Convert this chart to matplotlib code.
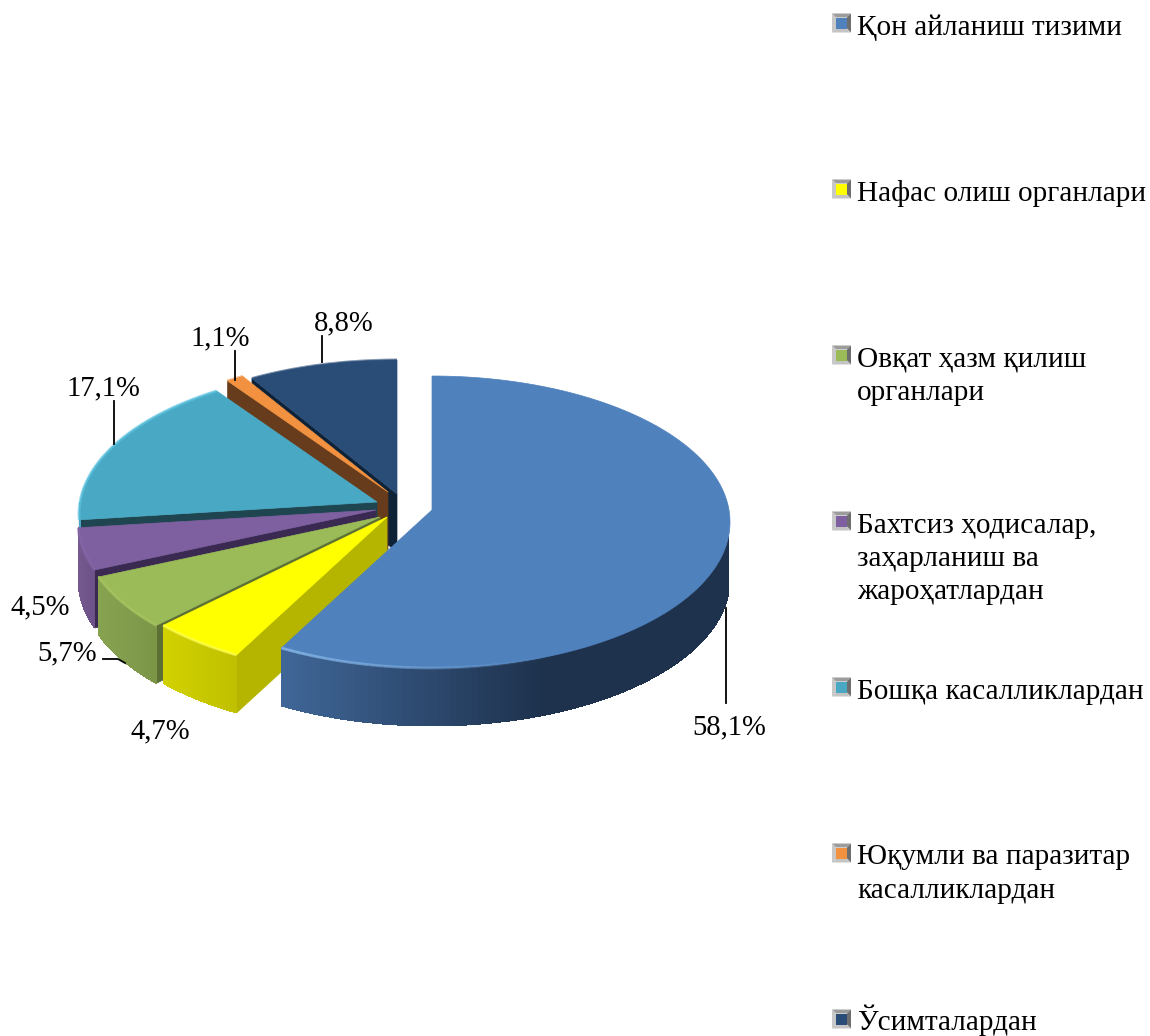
import numpy as np
import matplotlib
matplotlib.use("Agg")
import matplotlib.pyplot as plt
from matplotlib.colors import to_rgb
from matplotlib.patches import Polygon

plt.rcParams['font.family'] = ['Liberation Serif', 'DejaVu Serif']

names = ["Қон айланиш тизими", "Нафас олиш органлари", "Овқат ҳазм қилиш\nорганлари",
         "Бахтсиз ҳодисалар,\nзаҳарланиш ва\nжароҳатлардан", "Бошқа касалликлардан",
         "Юқумли ва паразитар\nкасалликлардан", "Ўсимталардан"]
values = [58.1, 4.7, 5.7, 4.5, 17.1, 1.1, 8.8]
labels = ["58,1%", "4,7%", "5,7%", "4,5%", "17,1%", "1,1%", "8,8%"]

# look of each slice
top_col = ["#4f81bd", "#ffff00", "#9bbb59", "#7e60a0", "#49a9c4", "#f29240", "#2a4d78"]
wall_col = ["#1f334f", "#b5b500", "#5c7035", "#3a2a52", "#1f4650", "#663c1c", "#0e2238"]
side_l = ["#41699b", "#d2d200", "#87a350", "#75598f", "#49a9c4", "#f29240", "#2a4d78"]
side_r = ["#1e324d", "#c0c000", "#7c9648", "#6c5288", "#49a9c4", "#f29240", "#2a4d78"]
edge_col = ["#86b6e6", "#ffff66", "#aecb66", "#8a6cab", "#5fc6e2", "#f29240", "#2a4d78"]
apex = [(432, 510), (387, 517), (380, 517), (376, 510), (377, 502), (388, 492), (397, 494)]
label_xy = [(729, 727), (160, 731), (67, 653), (40, 607), (103, 388), (220, 338), (344, 323)]
leaders = [[(726, 608), (726, 703)], [], [(103, 659), (118, 659), (125, 663)], [],
           [(114, 401), (114, 444)], [(235, 351), (235, 380)], [(322, 336), (322, 362)]]

rx, ry, depth, drop = 298, 146, 58, 12


def rim(a, deg):
    # small correction of the angle for the perspective of the 3d view
    r = np.radians(deg)
    w = 5 * np.sin(r) ** 2 + 5 * np.sin(r) ** 2 * np.maximum(np.cos(r), 0) * (np.sin(r) < 0)
    t = np.radians(deg + w)
    return a[0] + rx * np.sin(t), a[1] + drop - ry * np.cos(t)


def mix(c1, c2, f):
    c1, c2 = np.array(to_rgb(c1)), np.array(to_rgb(c2))
    return tuple(c1 + (c2 - c1) * f)


fig = plt.figure(figsize=(11.5, 10.36), dpi=100)
ax = fig.add_axes([0, 0, 1, 1])
ax.set_xlim(0, 1150)
ax.set_ylim(1036, 0)
ax.axis("off")

ends = np.cumsum(values) * 3.6
starts = ends - np.array(values) * 3.6

# back slices first, the big one goes on top
for i in range(len(values) - 1, -1, -1):
    a = apex[i]
    th = np.linspace(starts[i], ends[i], 160)
    xs, ys = rim(a, th)
    if i > 0:
        x0, y0 = rim(a, starts[i])
        ax.add_patch(Polygon([a, (x0, y0), (x0, y0 + depth), (a[0], a[1] + depth)],
                             fc=wall_col[i], ec=wall_col[i], lw=0.5))
    # outer side, only the part facing the viewer
    idx = np.where((th >= 90) & (th <= 270))[0]
    # from the right so every strip overlaps the seam of the one before
    for j0 in idx[::-1][:-1]:
        j1 = j0 - 1
        jn = min(j0 + 2, idx[-1])
        f = np.clip((xs[j0] - xs[idx].min()) / max(xs[idx].max() - xs[idx].min(), 1), 0, 1)
        if i == 0:
            f = min(f / 0.6, 1)
        c = mix(side_l[i], side_r[i], f)
        ax.add_patch(Polygon([(xs[jn], ys[jn]), (xs[j1], ys[j1]),
                              (xs[j1], ys[j1] + depth), (xs[jn], ys[jn] + depth)],
                             fc=c, lw=0, antialiased=False))
    ax.add_patch(Polygon([a] + list(zip(xs, ys)), fc=top_col[i], ec=top_col[i], lw=0.5))
    # light bevel along the rim
    for j0, j1 in zip(range(0, 159), range(1, 160)):
        if th[j0] < 90 and i == 0:
            continue
        alpha = 0.7
        if i == 0:
            alpha = 0.9 * max(1 - (ends[0] - th[j0]) / 55, 0)
        if alpha > 0:
            ax.plot(xs[[j0, j1]], ys[[j0, j1]], color=edge_col[i], lw=2, alpha=alpha,
                    solid_capstyle="butt")

for line, lab, pos in zip(leaders, labels, label_xy):
    if line:
        ax.plot(*zip(*line), color="black", lw=1.3)
    ax.text(pos[0], pos[1], lab, fontsize=20.6, ha="center", va="center", color="black")

# legend with the bevelled squares
for i, name in enumerate(names):
    yc = 23 + i * 166
    x0, x1, y0, y1 = 832, 851, yc - 9.5, yc + 9.5
    ins = 4
    ax.add_patch(Polygon([(x0, y0), (x1, y0), (x1 - ins, y0 + ins), (x0 + ins, y0 + ins)], fc="#9c9c9c", lw=0))
    ax.add_patch(Polygon([(x0, y0), (x0 + ins, y0 + ins), (x0 + ins, y1 - ins), (x0, y1)], fc="#c8c8c8", lw=0))
    ax.add_patch(Polygon([(x1, y0), (x1, y1), (x1 - ins, y1 - ins), (x1 - ins, y0 + ins)], fc="#6e6e6e", lw=0))
    ax.add_patch(Polygon([(x0, y1), (x1, y1), (x1 - ins, y1 - ins), (x0 + ins, y1 - ins)], fc="#c4c4c4", lw=0))
    ax.add_patch(Polygon([(x0 + ins, y0 + ins), (x1 - ins, y0 + ins), (x1 - ins, y1 - ins), (x0 + ins, y1 - ins)],
                         fc=top_col[i], lw=0))
    for k, part in enumerate(name.split("\n")):
        ax.text(857, 35 + i * 165.9 + k * 33.3, part, fontsize=21.1, ha="left", va="baseline", color="black")

fig.savefig("out.png", dpi=100)
